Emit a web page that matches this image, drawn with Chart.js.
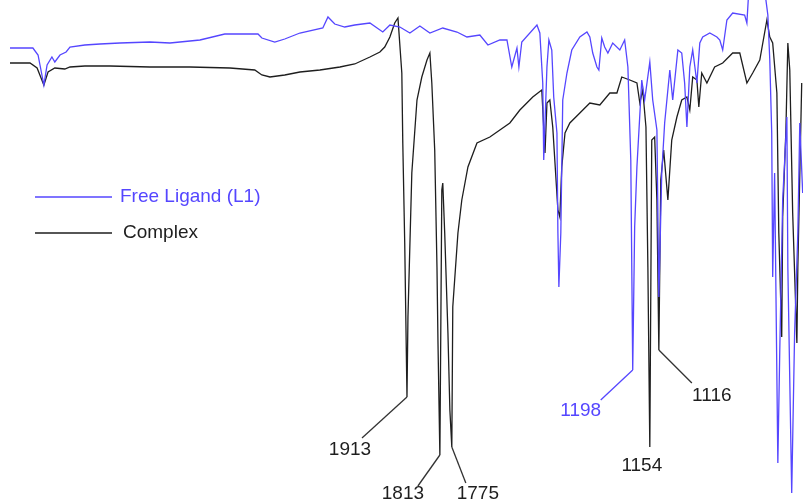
<!DOCTYPE html>
<html>
<head>
<meta charset="utf-8">
<script src="https://cdn.jsdelivr.net/npm/chart.js@4.4.1/dist/chart.umd.min.js"></script>
<style>
  html, body { margin: 0; padding: 0; background: #fff; }
  #wrap { width: 803px; height: 504px; position: relative; }
</style>
</head>
<body>
<div id="wrap"><canvas id="irChart"></canvas></div>
<script>
// ---------------- DATA (wavenumber cm-1, transmittance %) ----------------
const seriesNames = ["Free Ligand (L1)", "Complex"];

const ligandWn = [3139, 3068, 3052, 3046, 3034, 3024, 3009, 3000, 2984, 2965, 2953, 2907, 2860, 2798, 2705, 2643, 2550, 2473, 2370, 2358,
  2318, 2287, 2240, 2169, 2153, 2132, 2101, 2070, 2023, 1983, 1961, 1930, 1899, 1868, 1837, 1797, 1753, 1722, 1682, 1657,
  1620, 1598, 1583, 1567, 1561, 1552, 1505, 1496, 1487, 1484, 1474, 1468, 1459, 1453, 1443, 1440, 1437, 1431, 1425, 1412,
  1397, 1372, 1350, 1341, 1332, 1319, 1313, 1304, 1295, 1285, 1270, 1248, 1233, 1223, 1214, 1208, 1202, 1195, 1180, 1171,
  1155, 1146, 1133, 1127, 1118, 1109, 1093, 1084, 1068, 1056, 1047, 1040, 1031, 1022, 1009, 1000, 991, 969, 947, 938,
  929, 916, 898, 861, 854, 848, 799, 789, 783, 777, 774, 768, 758, 752, 743, 730, 727, 715, 706, 696, 690, 681];
const ligandT = [90.4, 90.4, 89.0, 87.0, 83.0, 87.0, 88.6, 87.6, 89.0, 89.6, 90.6, 91.0, 91.2, 91.4, 91.6, 91.4, 92.0, 93.2, 93.2, 92.4,
  91.6, 92.2, 93.4, 94.4, 96.6, 95.2, 94.6, 95.0, 95.4, 93.6, 95.0, 94.6, 93.4, 94.8, 93.4, 94.4, 93.6, 92.6, 93.0, 91.0,
  92.0, 92.0, 86.6, 90.4, 86.6, 91.6, 95.0, 93.4, 83.4, 68.0, 86.6, 92.0, 90.0, 80.6, 73.4, 53.4, 42.6, 53.4, 80.0, 85.4,
  90.0, 92.6, 93.6, 92.6, 89.4, 86.6, 86.0, 92.4, 90.6, 89.4, 91.4, 90.0, 92.0, 86.6, 68.0, 26.0, 54.6, 66.6, 84.0, 80.0,
  87.6, 80.0, 74.0, 40.6, 65.4, 75.4, 86.0, 80.0, 90.0, 89.4, 83.4, 74.6, 86.6, 90.0, 83.4, 91.4, 92.6, 93.4, 92.6, 92.0,
  90.0, 96.0, 97.4, 97.0, 95.4, 102, 102, 97.0, 88.0, 73.4, 44.6, 65.4, 7.4, 30.0, 60.0, 76.6, 46.6, 1.4, 33.4, 53.4, 75.4, 61.4];

const complexWn = [3139, 3077, 3055, 3034, 3021, 3000, 2969, 2953, 2907, 2829, 2705, 2581, 2457, 2380, 2358, 2333, 2287, 2240, 2178, 2116,
  2070, 2023, 1992, 1977, 1961, 1946, 1936, 1924, 1921, 1915, 1908, 1905, 1893, 1877, 1862, 1846, 1837, 1831, 1822, 1815,
  1812, 1806, 1800, 1797, 1791, 1781, 1775, 1769, 1766, 1750, 1738, 1719, 1691, 1651, 1620, 1589, 1558, 1518, 1490, 1480,
  1474, 1465, 1456, 1440, 1434, 1428, 1418, 1403, 1372, 1341, 1310, 1279, 1257, 1242, 1217, 1195, 1186, 1177, 1167, 1161,
  1155, 1149, 1140, 1133, 1127, 1121, 1112, 1099, 1087, 1071, 1056, 1040, 1031, 1022, 1009, 1003, 994, 978, 954, 929,
  898, 876, 854, 836, 814, 792, 783, 774, 761, 755, 746, 743, 733, 727, 721, 712, 699, 696, 684];
const complexT = [87.4, 87.4, 86.4, 83.0, 85.6, 86.4, 86.2, 86.6, 86.8, 86.8, 86.6, 86.6, 86.4, 86.0, 85.0, 84.6, 85.0, 85.6, 86.0, 86.6,
  87.2, 88.6, 89.6, 90.6, 92.6, 95.4, 96.4, 85.4, 71.4, 51.4, 20.6, 36.6, 65.4, 80.0, 84.6, 88.0, 89.4, 83.4, 70.0, 46.6,
  32.0, 9.0, 62.0, 63.4, 53.4, 33.4, 18.0, 10.6, 38.6, 53.4, 60.0, 66.6, 71.4, 72.6, 74.0, 75.4, 78.0, 80.6, 82.0, 69.4,
  79.4, 80.0, 74.6, 58.0, 56.6, 66.6, 73.4, 75.4, 77.4, 79.4, 79.0, 81.4, 81.4, 84.6, 84.0, 83.4, 79.4, 82.0, 74.6, 46.6,
  10.6, 72.0, 72.6, 60.0, 30.0, 64.0, 70.0, 60.0, 72.0, 76.6, 80.0, 80.6, 78.0, 84.6, 84.0, 78.6, 85.4, 83.4, 86.6, 87.4,
  89.4, 89.4, 83.4, 85.4, 88.0, 96.0, 92.6, 91.4, 81.4, 53.4, 32.6, 56.6, 74.0, 91.4, 86.0, 57.4, 31.4, 46.6, 83.4];

// peak labels: text, wavenumber of the tip, which series
const peakLabels = ["1913", "1813", "1775", "1198", "1154", "1116"];
const peakWn = [1908, 1806, 1769, 1208, 1155, 1127];
const peakSeries = [1, 1, 1, 0, 1, 1];

// ---------------- STYLE ----------------
const BLUE = "#5546ff";
const DARK = "#1e1e1e";
// leader end (dx, dy from tip, px) and text centre (from leader end, px)
const leaderLayout = [
  [-45, 41, -12, 12],
  [-22, 31, -15, 8],
  [14, 36, 12, 11],
  [-32, 30, -20, 11],
  [0, 0, -8, 19],
  [33, 33, 20, 13]
];

const toPoints = (xs, ys) => xs.map((x, i) => ({ x: x, y: ys[i] }));

const annotate = {
  id: "annotate",
  afterDatasetsDraw(chart) {
    const ctx = chart.ctx;
    const xs = chart.scales.x, ys = chart.scales.y;
    ctx.save();

    // peak leaders + labels
    peakLabels.forEach((txt, i) => {
      const s = peakSeries[i];
      const wnArr = s === 0 ? ligandWn : complexWn;
      const tArr = s === 0 ? ligandT : complexT;
      const k = wnArr.indexOf(peakWn[i]);
      const px = xs.getPixelForValue(peakWn[i]);
      const py = ys.getPixelForValue(tArr[k]);
      const [dx, dy, tx, ty] = leaderLayout[i];
      const col = s === 0 ? BLUE : "#333";
      if (dx || dy) {
        ctx.strokeStyle = col;
        ctx.lineWidth = 1.3;
        ctx.beginPath();
        ctx.moveTo(px, py);
        ctx.lineTo(px + dx, py + dy);
        ctx.stroke();
      }
      ctx.fillStyle = s === 0 ? BLUE : DARK;
      ctx.font = "19px 'Liberation Sans', Arial, sans-serif";
      ctx.textAlign = "center";
      ctx.textBaseline = "middle";
      ctx.fillText(txt, px + dx + tx, py + dy + ty);
    });

    // legend
    const legendColors = [BLUE, DARK];
    const legendY = [197, 233];
    ctx.font = "19px 'Liberation Sans', Arial, sans-serif";
    ctx.textAlign = "left";
    ctx.textBaseline = "middle";
    seriesNames.forEach((name, i) => {
      ctx.strokeStyle = legendColors[i];
      ctx.lineWidth = 1.3;
      ctx.beginPath();
      ctx.moveTo(35, legendY[i]);
      ctx.lineTo(112, legendY[i]);
      ctx.stroke();
      ctx.fillStyle = legendColors[i];
      ctx.fillText(name, i === 0 ? 120 : 123, legendY[i]);
    });
    ctx.restore();
  }
};

new Chart(document.getElementById("irChart"), {
  type: "line",
  data: {
    datasets: [
      {
        label: seriesNames[0],
        data: toPoints(ligandWn, ligandT),
        borderColor: BLUE,
        borderWidth: 1.3,
        pointRadius: 0,
        tension: 0
      },
      {
        label: seriesNames[1],
        data: toPoints(complexWn, complexT),
        borderColor: DARK,
        borderWidth: 1.3,
        pointRadius: 0,
        tension: 0
      }
    ]
  },
  options: {
    responsive: true,
    maintainAspectRatio: false,
    animation: false,
    layout: { padding: 0 },
    plugins: {
      legend: { display: false },
      tooltip: { enabled: false }
    },
    scales: {
      x: { type: "linear", reverse: true, min: 680, max: 3170, display: false },
      y: { min: -0.8, max: 100, display: false }
    }
  },
  plugins: [annotate]
});
</script>
</body>
</html>
